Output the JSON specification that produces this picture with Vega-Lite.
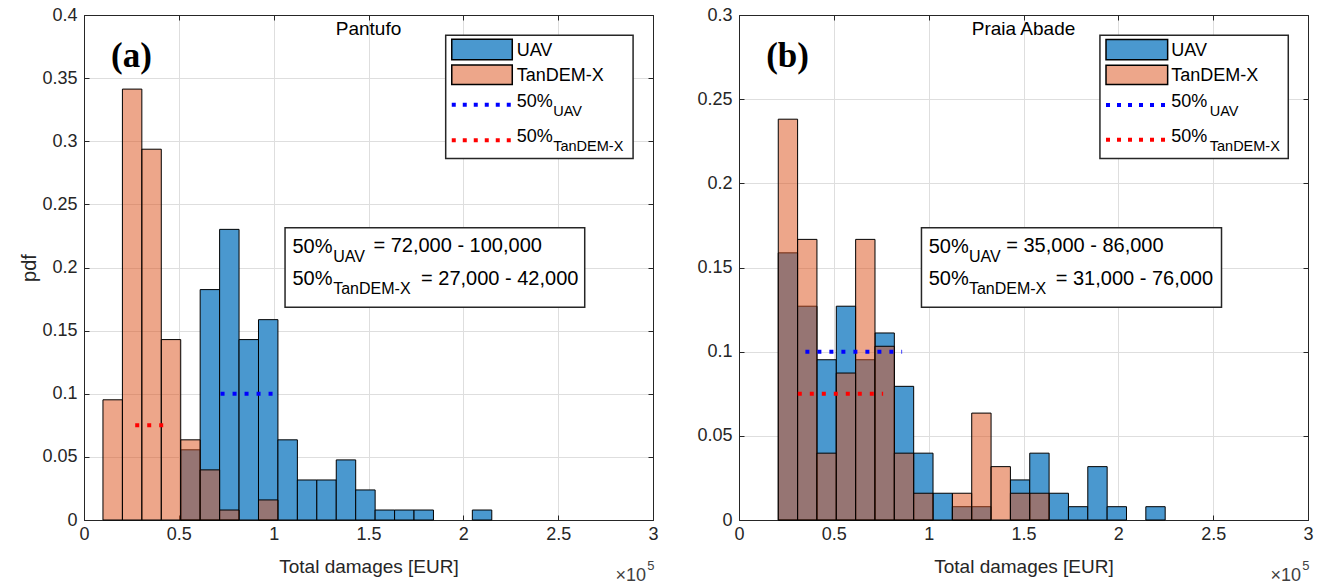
{
  "$schema": "https://vega.github.io/schema/vega-lite/v6.json",
  "padding": {"left": 19, "top": 5, "right": 5, "bottom": 0},
  "spacing": 37,
  "datasets": {
    "bars": [
      {"panel": "a", "series": "UAV", "x0": 51000, "x1": 61250, "p": 0.0556},
      {"panel": "a", "series": "UAV", "x0": 61250, "x1": 71500, "p": 0.1825},
      {"panel": "a", "series": "UAV", "x0": 71500, "x1": 81750, "p": 0.2302},
      {"panel": "a", "series": "UAV", "x0": 81750, "x1": 92000, "p": 0.1429},
      {"panel": "a", "series": "UAV", "x0": 92000, "x1": 102250, "p": 0.1587},
      {"panel": "a", "series": "UAV", "x0": 102250, "x1": 112500, "p": 0.0635},
      {"panel": "a", "series": "UAV", "x0": 112500, "x1": 122750, "p": 0.0317},
      {"panel": "a", "series": "UAV", "x0": 122750, "x1": 133000, "p": 0.0317},
      {"panel": "a", "series": "UAV", "x0": 133000, "x1": 143250, "p": 0.0476},
      {"panel": "a", "series": "UAV", "x0": 143250, "x1": 153500, "p": 0.0238},
      {"panel": "a", "series": "UAV", "x0": 153500, "x1": 163750, "p": 0.0079},
      {"panel": "a", "series": "UAV", "x0": 163750, "x1": 174000, "p": 0.0079},
      {"panel": "a", "series": "UAV", "x0": 174000, "x1": 184250, "p": 0.0079},
      {"panel": "a", "series": "UAV", "x0": 204750, "x1": 215000, "p": 0.0079},
      {"panel": "a", "series": "TanDEM-X", "x0": 10000, "x1": 20250, "p": 0.0952},
      {"panel": "a", "series": "TanDEM-X", "x0": 20250, "x1": 30500, "p": 0.3413},
      {"panel": "a", "series": "TanDEM-X", "x0": 30500, "x1": 40750, "p": 0.2937},
      {"panel": "a", "series": "TanDEM-X", "x0": 40750, "x1": 51000, "p": 0.1429},
      {"panel": "a", "series": "TanDEM-X", "x0": 51000, "x1": 61250, "p": 0.0635},
      {"panel": "a", "series": "TanDEM-X", "x0": 61250, "x1": 71500, "p": 0.0397},
      {"panel": "a", "series": "TanDEM-X", "x0": 71500, "x1": 81750, "p": 0.0079},
      {"panel": "a", "series": "TanDEM-X", "x0": 92000, "x1": 102250, "p": 0.0159},
      {"panel": "b", "series": "UAV", "x0": 20700, "x1": 30900, "p": 0.1587},
      {"panel": "b", "series": "UAV", "x0": 30900, "x1": 41100, "p": 0.1270},
      {"panel": "b", "series": "UAV", "x0": 41100, "x1": 51300, "p": 0.0952},
      {"panel": "b", "series": "UAV", "x0": 51300, "x1": 61500, "p": 0.1270},
      {"panel": "b", "series": "UAV", "x0": 61500, "x1": 71700, "p": 0.0952},
      {"panel": "b", "series": "UAV", "x0": 71700, "x1": 81900, "p": 0.1111},
      {"panel": "b", "series": "UAV", "x0": 81900, "x1": 92100, "p": 0.0794},
      {"panel": "b", "series": "UAV", "x0": 92100, "x1": 102300, "p": 0.0397},
      {"panel": "b", "series": "UAV", "x0": 102300, "x1": 112500, "p": 0.0159},
      {"panel": "b", "series": "UAV", "x0": 112500, "x1": 122700, "p": 0.0079},
      {"panel": "b", "series": "UAV", "x0": 122700, "x1": 132900, "p": 0.0079},
      {"panel": "b", "series": "UAV", "x0": 143100, "x1": 153300, "p": 0.0238},
      {"panel": "b", "series": "UAV", "x0": 153300, "x1": 163500, "p": 0.0397},
      {"panel": "b", "series": "UAV", "x0": 163500, "x1": 173700, "p": 0.0159},
      {"panel": "b", "series": "UAV", "x0": 173700, "x1": 183900, "p": 0.0079},
      {"panel": "b", "series": "UAV", "x0": 183900, "x1": 194100, "p": 0.0317},
      {"panel": "b", "series": "UAV", "x0": 194100, "x1": 204300, "p": 0.0079},
      {"panel": "b", "series": "UAV", "x0": 214500, "x1": 224700, "p": 0.0079},
      {"panel": "b", "series": "TanDEM-X", "x0": 20700, "x1": 30900, "p": 0.2381},
      {"panel": "b", "series": "TanDEM-X", "x0": 30900, "x1": 41100, "p": 0.1667},
      {"panel": "b", "series": "TanDEM-X", "x0": 41100, "x1": 51300, "p": 0.0397},
      {"panel": "b", "series": "TanDEM-X", "x0": 51300, "x1": 61500, "p": 0.0873},
      {"panel": "b", "series": "TanDEM-X", "x0": 61500, "x1": 71700, "p": 0.1667},
      {"panel": "b", "series": "TanDEM-X", "x0": 71700, "x1": 81900, "p": 0.1032},
      {"panel": "b", "series": "TanDEM-X", "x0": 81900, "x1": 92100, "p": 0.0397},
      {"panel": "b", "series": "TanDEM-X", "x0": 92100, "x1": 102300, "p": 0.0159},
      {"panel": "b", "series": "TanDEM-X", "x0": 112500, "x1": 122700, "p": 0.0159},
      {"panel": "b", "series": "TanDEM-X", "x0": 122700, "x1": 132900, "p": 0.0635},
      {"panel": "b", "series": "TanDEM-X", "x0": 132900, "x1": 143100, "p": 0.0317},
      {"panel": "b", "series": "TanDEM-X", "x0": 143100, "x1": 153300, "p": 0.0159},
      {"panel": "b", "series": "TanDEM-X", "x0": 153300, "x1": 163500, "p": 0.0159}
    ],
    "medians": [
      {"panel": "a", "series": "UAV", "x0": 72000, "x1": 100000, "y": 0.1},
      {"panel": "a", "series": "TanDEM-X", "x0": 27000, "x1": 42000, "y": 0.075},
      {"panel": "b", "series": "UAV", "x0": 35000, "x1": 86000, "y": 0.1},
      {"panel": "b", "series": "TanDEM-X", "x0": 31000, "x1": 76000, "y": 0.075}
    ],
    "legendlines": [
      {"panel": "a", "series": "UAV", "x0": 193900, "x1": 225800, "y": 0.3289},
      {"panel": "a", "series": "TanDEM-X", "x0": 193900, "x1": 225800, "y": 0.3007},
      {"panel": "b", "series": "UAV", "x0": 193500, "x1": 226000, "y": 0.2466},
      {"panel": "b", "series": "TanDEM-X", "x0": 193500, "x1": 226000, "y": 0.2259}
    ],
    "boxes": [
      {"panel": "a", "box": "legend", "x0": 190700, "x1": 289500, "y0": 0.2864, "y1": 0.3839},
      {"panel": "a", "box": "stats", "x0": 106000, "x1": 264000, "y0": 0.1685, "y1": 0.2315},
      {"panel": "b", "box": "legend", "x0": 190300, "x1": 289600, "y0": 0.2148, "y1": 0.2879},
      {"panel": "b", "box": "stats", "x0": 96200, "x1": 254400, "y0": 0.1264, "y1": 0.1736}
    ],
    "swatches": [
      {"panel": "a", "series": "UAV", "x0": 193900, "x1": 225800, "y0": 0.3646, "y1": 0.3807},
      {"panel": "a", "series": "TanDEM-X", "x0": 193900, "x1": 225800, "y0": 0.3450, "y1": 0.3603},
      {"panel": "b", "series": "UAV", "x0": 193500, "x1": 226000, "y0": 0.2734, "y1": 0.2855},
      {"panel": "b", "series": "TanDEM-X", "x0": 193500, "x1": 226000, "y0": 0.2587, "y1": 0.2702}
    ],
    "texts": [
      {"panel": "a", "role": "main", "x": 109900, "y": 0.2164, "text": "50%"},
      {"panel": "a", "role": "main", "x": 152600, "y": 0.2170, "text": "= 72,000 - 100,000"},
      {"panel": "a", "role": "main", "x": 109900, "y": 0.1905, "text": "50%"},
      {"panel": "a", "role": "main", "x": 177700, "y": 0.1910, "text": "= 27,000 - 42,000"},
      {"panel": "a", "role": "sub", "x": 131400, "y": 0.2083, "text": "UAV"},
      {"panel": "a", "role": "sub", "x": 131400, "y": 0.1828, "text": "TanDEM-X"},
      {"panel": "a", "role": "lmain", "x": 228100, "y": 0.3718, "text": "UAV"},
      {"panel": "a", "role": "lmain", "x": 228100, "y": 0.3517, "text": "TanDEM-X"},
      {"panel": "a", "role": "lmain", "x": 228100, "y": 0.3310, "text": "50%"},
      {"panel": "a", "role": "lmain", "x": 228100, "y": 0.3034, "text": "50%"},
      {"panel": "a", "role": "lsub", "x": 247400, "y": 0.3235, "text": "UAV"},
      {"panel": "a", "role": "lsub", "x": 247400, "y": 0.2953, "text": "TanDEM-X"},
      {"panel": "a", "role": "title", "x": 150000, "y": 0.3887, "text": "Pantufo"},
      {"panel": "a", "role": "label", "x": 25000, "y": 0.3678, "text": "(a)"},
      {"panel": "a", "role": "mult", "x": 296300, "y": -0.0444, "text": "×10"},
      {"panel": "a", "role": "sup", "x": 297000, "y": -0.0364, "text": "5"},
      {"panel": "b", "role": "main", "x": 100000, "y": 0.1623, "text": "50%"},
      {"panel": "b", "role": "main", "x": 140900, "y": 0.1627, "text": "= 35,000 - 86,000"},
      {"panel": "b", "role": "main", "x": 100000, "y": 0.1429, "text": "50%"},
      {"panel": "b", "role": "main", "x": 167000, "y": 0.1432, "text": "= 31,000 - 76,000"},
      {"panel": "b", "role": "sub", "x": 121200, "y": 0.1562, "text": "UAV"},
      {"panel": "b", "role": "sub", "x": 121200, "y": 0.1371, "text": "TanDEM-X"},
      {"panel": "b", "role": "lmain", "x": 227900, "y": 0.2788, "text": "UAV"},
      {"panel": "b", "role": "lmain", "x": 227900, "y": 0.2637, "text": "TanDEM-X"},
      {"panel": "b", "role": "lmain", "x": 227900, "y": 0.2482, "text": "50%"},
      {"panel": "b", "role": "lmain", "x": 227900, "y": 0.2275, "text": "50%"},
      {"panel": "b", "role": "lsub", "x": 248200, "y": 0.2426, "text": "UAV"},
      {"panel": "b", "role": "lsub", "x": 248200, "y": 0.2215, "text": "TanDEM-X"},
      {"panel": "b", "role": "title", "x": 150000, "y": 0.2915, "text": "Praia Abade"},
      {"panel": "b", "role": "label", "x": 25600, "y": 0.2758, "text": "(b)"},
      {"panel": "b", "role": "mult", "x": 296300, "y": -0.0333, "text": "×10"},
      {"panel": "b", "role": "sup", "x": 297000, "y": -0.0273, "text": "5"}
    ]
  },
  "hconcat": [
    {
      "width": 569,
      "height": 505,
      "resolve": {"axis": {"x": "independent", "y": "independent"}},
      "layer": [
        {
          "data": {"name": "bars"},
          "transform": [{"filter": "datum.panel == 'a' && datum.series == 'UAV'"}],
          "mark": {"type": "rect", "fill": "#4A98CF", "stroke": "#000000", "strokeWidth": 1},
          "encoding": {
            "x": {"field": "x0", "type": "quantitative", "scale": {"domain": [0, 300000], "nice": false, "zero": false},
                  "axis": {"orient": "bottom", "values": [0, 50000, 100000, 150000, 200000, 250000, 300000], "labelExpr": "'' + datum.value / 100000", "title": "Total damages [EUR]", "grid": true, "tickSize": -5, "labelPadding": 10, "titlePadding": 14}},
            "x2": {"field": "x1"},
            "y": {"field": "p", "type": "quantitative", "scale": {"domain": [0, 0.4], "nice": false},
                  "axis": {"orient": "left", "values": [0, 0.05, 0.1, 0.15, 0.2, 0.25, 0.3, 0.35, 0.4], "labelExpr": "'' + datum.value", "title": "pdf", "titleFontSize": 20, "grid": true, "tickSize": -5, "labelPadding": 12, "titlePadding": 2}},
            "y2": {"datum": 0}
          }
        },
        {
          "data": {"name": "bars"},
          "transform": [{"filter": "datum.panel == 'a' && datum.series == 'TanDEM-X'"}],
          "mark": {"type": "rect", "fill": "#DC541E", "fillOpacity": 0.52, "stroke": "#000000", "strokeWidth": 1},
          "encoding": {
            "x": {"field": "x0", "type": "quantitative", "axis": {"orient": "top", "values": [0, 50000, 100000, 150000, 200000, 250000, 300000], "labels": false, "title": null, "grid": false, "tickSize": -5}},
            "x2": {"field": "x1"},
            "y": {"field": "p", "type": "quantitative", "axis": {"orient": "right", "values": [0, 0.05, 0.1, 0.15, 0.2, 0.25, 0.3, 0.35, 0.4], "labels": false, "title": null, "grid": false, "tickSize": -5}},
            "y2": {"datum": 0}
          }
        },
        {
          "data": {"name": "medians"},
          "transform": [{"filter": "datum.panel == 'a'"}],
          "mark": {"type": "rule", "strokeWidth": 4, "strokeDash": [4, 8]},
          "encoding": {
            "x": {"field": "x0", "type": "quantitative", "axis": null},
            "x2": {"field": "x1"},
            "y": {"field": "y", "type": "quantitative", "axis": null},
            "color": {"field": "series", "type": "nominal", "scale": {"domain": ["UAV", "TanDEM-X"], "range": ["#0000FF", "#FF0000"]}, "legend": null}
          }
        },
        {
          "data": {"name": "boxes"},
          "transform": [{"filter": "datum.panel == 'a'"}],
          "mark": {"type": "rect", "fill": "#FFFFFF", "stroke": "#262626", "strokeWidth": 1.5},
          "encoding": {
            "x": {"field": "x0", "type": "quantitative", "axis": null},
            "x2": {"field": "x1"},
            "y": {"field": "y0", "type": "quantitative", "axis": null},
            "y2": {"field": "y1"}
          }
        },
        {
          "data": {"name": "swatches"},
          "transform": [{"filter": "datum.panel == 'a' && datum.series == 'UAV'"}],
          "mark": {"type": "rect", "fill": "#4A98CF", "stroke": "#000000", "strokeWidth": 1.5},
          "encoding": {
            "x": {"field": "x0", "type": "quantitative", "axis": null},
            "x2": {"field": "x1"},
            "y": {"field": "y0", "type": "quantitative", "axis": null},
            "y2": {"field": "y1"}
          }
        },
        {
          "data": {"name": "swatches"},
          "transform": [{"filter": "datum.panel == 'a' && datum.series == 'TanDEM-X'"}],
          "mark": {"type": "rect", "fill": "#DC541E", "fillOpacity": 0.52, "stroke": "#000000", "strokeWidth": 1.5},
          "encoding": {
            "x": {"field": "x0", "type": "quantitative", "axis": null},
            "x2": {"field": "x1"},
            "y": {"field": "y0", "type": "quantitative", "axis": null},
            "y2": {"field": "y1"}
          }
        },
        {
          "data": {"name": "legendlines"},
          "transform": [{"filter": "datum.panel == 'a'"}],
          "mark": {"type": "rule", "strokeWidth": 4, "strokeDash": [4, 7]},
          "encoding": {
            "x": {"field": "x0", "type": "quantitative", "axis": null},
            "x2": {"field": "x1"},
            "y": {"field": "y", "type": "quantitative", "axis": null},
            "color": {"field": "series", "type": "nominal", "scale": {"domain": ["UAV", "TanDEM-X"], "range": ["#0000FF", "#FF0000"]}, "legend": null}
          }
        },
        {
          "data": {"name": "texts"},
          "transform": [{"filter": "datum.panel == 'a' && datum.role == 'main'"}],
          "mark": {"type": "text", "align": "left", "baseline": "middle", "fontSize": 20, "font": "Liberation Sans", "color": "#000000"},
          "encoding": {"x": {"field": "x", "type": "quantitative", "axis": null}, "y": {"field": "y", "type": "quantitative", "axis": null}, "text": {"field": "text"}}
        },
        {
          "data": {"name": "texts"},
          "transform": [{"filter": "datum.panel == 'a' && datum.role == 'sub'"}],
          "mark": {"type": "text", "align": "left", "baseline": "middle", "fontSize": 16, "font": "Liberation Sans", "color": "#000000"},
          "encoding": {"x": {"field": "x", "type": "quantitative", "axis": null}, "y": {"field": "y", "type": "quantitative", "axis": null}, "text": {"field": "text"}}
        },
        {
          "data": {"name": "texts"},
          "transform": [{"filter": "datum.panel == 'a' && datum.role == 'lmain'"}],
          "mark": {"type": "text", "align": "left", "baseline": "middle", "fontSize": 18, "font": "Liberation Sans", "color": "#000000"},
          "encoding": {"x": {"field": "x", "type": "quantitative", "axis": null}, "y": {"field": "y", "type": "quantitative", "axis": null}, "text": {"field": "text"}}
        },
        {
          "data": {"name": "texts"},
          "transform": [{"filter": "datum.panel == 'a' && datum.role == 'lsub'"}],
          "mark": {"type": "text", "align": "left", "baseline": "middle", "fontSize": 14.5, "font": "Liberation Sans", "color": "#000000"},
          "encoding": {"x": {"field": "x", "type": "quantitative", "axis": null}, "y": {"field": "y", "type": "quantitative", "axis": null}, "text": {"field": "text"}}
        },
        {
          "data": {"name": "texts"},
          "transform": [{"filter": "datum.panel == 'a' && datum.role == 'title'"}],
          "mark": {"type": "text", "align": "center", "baseline": "middle", "fontSize": 19, "font": "Liberation Sans", "color": "#000000"},
          "encoding": {"x": {"field": "x", "type": "quantitative", "axis": null}, "y": {"field": "y", "type": "quantitative", "axis": null}, "text": {"field": "text"}}
        },
        {
          "data": {"name": "texts"},
          "transform": [{"filter": "datum.panel == 'a' && datum.role == 'label'"}],
          "mark": {"type": "text", "align": "center", "baseline": "middle", "fontSize": 35, "font": "Liberation Serif", "fontWeight": "bold", "color": "#000000"},
          "encoding": {"x": {"field": "x", "type": "quantitative", "axis": null}, "y": {"field": "y", "type": "quantitative", "axis": null}, "text": {"field": "text"}}
        },
        {
          "data": {"name": "texts"},
          "transform": [{"filter": "datum.panel == 'a' && datum.role == 'mult'"}],
          "mark": {"type": "text", "align": "right", "baseline": "middle", "fontSize": 18, "font": "Liberation Sans", "color": "#404040", "clip": false},
          "encoding": {"x": {"field": "x", "type": "quantitative", "axis": null}, "y": {"field": "y", "type": "quantitative", "axis": null}, "text": {"field": "text"}}
        },
        {
          "data": {"name": "texts"},
          "transform": [{"filter": "datum.panel == 'a' && datum.role == 'sup'"}],
          "mark": {"type": "text", "align": "left", "baseline": "middle", "fontSize": 13, "font": "Liberation Sans", "color": "#404040", "clip": false},
          "encoding": {"x": {"field": "x", "type": "quantitative", "axis": null}, "y": {"field": "y", "type": "quantitative", "axis": null}, "text": {"field": "text"}}
        }
      ]
    },
    {
      "width": 569,
      "height": 505,
      "resolve": {"axis": {"x": "independent", "y": "independent"}},
      "layer": [
        {
          "data": {"name": "bars"},
          "transform": [{"filter": "datum.panel == 'b' && datum.series == 'UAV'"}],
          "mark": {"type": "rect", "fill": "#4A98CF", "stroke": "#000000", "strokeWidth": 1},
          "encoding": {
            "x": {"field": "x0", "type": "quantitative", "scale": {"domain": [0, 300000], "nice": false, "zero": false},
                  "axis": {"orient": "bottom", "values": [0, 50000, 100000, 150000, 200000, 250000, 300000], "labelExpr": "'' + datum.value / 100000", "title": "Total damages [EUR]", "grid": true, "tickSize": -5, "labelPadding": 10, "titlePadding": 14}},
            "x2": {"field": "x1"},
            "y": {"field": "p", "type": "quantitative", "scale": {"domain": [0, 0.3], "nice": false},
                  "axis": {"orient": "left", "values": [0, 0.05, 0.1, 0.15, 0.2, 0.25, 0.3], "labelExpr": "'' + datum.value", "title": null, "grid": true, "tickSize": -5, "labelPadding": 12}},
            "y2": {"datum": 0}
          }
        },
        {
          "data": {"name": "bars"},
          "transform": [{"filter": "datum.panel == 'b' && datum.series == 'TanDEM-X'"}],
          "mark": {"type": "rect", "fill": "#DC541E", "fillOpacity": 0.52, "stroke": "#000000", "strokeWidth": 1},
          "encoding": {
            "x": {"field": "x0", "type": "quantitative", "axis": {"orient": "top", "values": [0, 50000, 100000, 150000, 200000, 250000, 300000], "labels": false, "title": null, "grid": false, "tickSize": -5}},
            "x2": {"field": "x1"},
            "y": {"field": "p", "type": "quantitative", "axis": {"orient": "right", "values": [0, 0.05, 0.1, 0.15, 0.2, 0.25, 0.3], "labels": false, "title": null, "grid": false, "tickSize": -5}},
            "y2": {"datum": 0}
          }
        },
        {
          "data": {"name": "medians"},
          "transform": [{"filter": "datum.panel == 'b'"}],
          "mark": {"type": "rule", "strokeWidth": 4, "strokeDash": [4, 8]},
          "encoding": {
            "x": {"field": "x0", "type": "quantitative", "axis": null},
            "x2": {"field": "x1"},
            "y": {"field": "y", "type": "quantitative", "axis": null},
            "color": {"field": "series", "type": "nominal", "scale": {"domain": ["UAV", "TanDEM-X"], "range": ["#0000FF", "#FF0000"]}, "legend": null}
          }
        },
        {
          "data": {"name": "boxes"},
          "transform": [{"filter": "datum.panel == 'b'"}],
          "mark": {"type": "rect", "fill": "#FFFFFF", "stroke": "#262626", "strokeWidth": 1.5},
          "encoding": {
            "x": {"field": "x0", "type": "quantitative", "axis": null},
            "x2": {"field": "x1"},
            "y": {"field": "y0", "type": "quantitative", "axis": null},
            "y2": {"field": "y1"}
          }
        },
        {
          "data": {"name": "swatches"},
          "transform": [{"filter": "datum.panel == 'b' && datum.series == 'UAV'"}],
          "mark": {"type": "rect", "fill": "#4A98CF", "stroke": "#000000", "strokeWidth": 1.5},
          "encoding": {
            "x": {"field": "x0", "type": "quantitative", "axis": null},
            "x2": {"field": "x1"},
            "y": {"field": "y0", "type": "quantitative", "axis": null},
            "y2": {"field": "y1"}
          }
        },
        {
          "data": {"name": "swatches"},
          "transform": [{"filter": "datum.panel == 'b' && datum.series == 'TanDEM-X'"}],
          "mark": {"type": "rect", "fill": "#DC541E", "fillOpacity": 0.52, "stroke": "#000000", "strokeWidth": 1.5},
          "encoding": {
            "x": {"field": "x0", "type": "quantitative", "axis": null},
            "x2": {"field": "x1"},
            "y": {"field": "y0", "type": "quantitative", "axis": null},
            "y2": {"field": "y1"}
          }
        },
        {
          "data": {"name": "legendlines"},
          "transform": [{"filter": "datum.panel == 'b'"}],
          "mark": {"type": "rule", "strokeWidth": 4, "strokeDash": [4, 7]},
          "encoding": {
            "x": {"field": "x0", "type": "quantitative", "axis": null},
            "x2": {"field": "x1"},
            "y": {"field": "y", "type": "quantitative", "axis": null},
            "color": {"field": "series", "type": "nominal", "scale": {"domain": ["UAV", "TanDEM-X"], "range": ["#0000FF", "#FF0000"]}, "legend": null}
          }
        },
        {
          "data": {"name": "texts"},
          "transform": [{"filter": "datum.panel == 'b' && datum.role == 'main'"}],
          "mark": {"type": "text", "align": "left", "baseline": "middle", "fontSize": 20, "font": "Liberation Sans", "color": "#000000"},
          "encoding": {"x": {"field": "x", "type": "quantitative", "axis": null}, "y": {"field": "y", "type": "quantitative", "axis": null}, "text": {"field": "text"}}
        },
        {
          "data": {"name": "texts"},
          "transform": [{"filter": "datum.panel == 'b' && datum.role == 'sub'"}],
          "mark": {"type": "text", "align": "left", "baseline": "middle", "fontSize": 16, "font": "Liberation Sans", "color": "#000000"},
          "encoding": {"x": {"field": "x", "type": "quantitative", "axis": null}, "y": {"field": "y", "type": "quantitative", "axis": null}, "text": {"field": "text"}}
        },
        {
          "data": {"name": "texts"},
          "transform": [{"filter": "datum.panel == 'b' && datum.role == 'lmain'"}],
          "mark": {"type": "text", "align": "left", "baseline": "middle", "fontSize": 18, "font": "Liberation Sans", "color": "#000000"},
          "encoding": {"x": {"field": "x", "type": "quantitative", "axis": null}, "y": {"field": "y", "type": "quantitative", "axis": null}, "text": {"field": "text"}}
        },
        {
          "data": {"name": "texts"},
          "transform": [{"filter": "datum.panel == 'b' && datum.role == 'lsub'"}],
          "mark": {"type": "text", "align": "left", "baseline": "middle", "fontSize": 14.5, "font": "Liberation Sans", "color": "#000000"},
          "encoding": {"x": {"field": "x", "type": "quantitative", "axis": null}, "y": {"field": "y", "type": "quantitative", "axis": null}, "text": {"field": "text"}}
        },
        {
          "data": {"name": "texts"},
          "transform": [{"filter": "datum.panel == 'b' && datum.role == 'title'"}],
          "mark": {"type": "text", "align": "center", "baseline": "middle", "fontSize": 19, "font": "Liberation Sans", "color": "#000000"},
          "encoding": {"x": {"field": "x", "type": "quantitative", "axis": null}, "y": {"field": "y", "type": "quantitative", "axis": null}, "text": {"field": "text"}}
        },
        {
          "data": {"name": "texts"},
          "transform": [{"filter": "datum.panel == 'b' && datum.role == 'label'"}],
          "mark": {"type": "text", "align": "center", "baseline": "middle", "fontSize": 35, "font": "Liberation Serif", "fontWeight": "bold", "color": "#000000"},
          "encoding": {"x": {"field": "x", "type": "quantitative", "axis": null}, "y": {"field": "y", "type": "quantitative", "axis": null}, "text": {"field": "text"}}
        },
        {
          "data": {"name": "texts"},
          "transform": [{"filter": "datum.panel == 'b' && datum.role == 'mult'"}],
          "mark": {"type": "text", "align": "right", "baseline": "middle", "fontSize": 18, "font": "Liberation Sans", "color": "#404040", "clip": false},
          "encoding": {"x": {"field": "x", "type": "quantitative", "axis": null}, "y": {"field": "y", "type": "quantitative", "axis": null}, "text": {"field": "text"}}
        },
        {
          "data": {"name": "texts"},
          "transform": [{"filter": "datum.panel == 'b' && datum.role == 'sup'"}],
          "mark": {"type": "text", "align": "left", "baseline": "middle", "fontSize": 13, "font": "Liberation Sans", "color": "#404040", "clip": false},
          "encoding": {"x": {"field": "x", "type": "quantitative", "axis": null}, "y": {"field": "y", "type": "quantitative", "axis": null}, "text": {"field": "text"}}
        }
      ]
    }
  ],
  "config": {
    "background": "#FFFFFF",
    "font": "Liberation Sans",
    "view": {"stroke": "#262626", "strokeWidth": 1},
    "axis": {
      "labelFont": "Liberation Sans",
      "labelFontSize": 18,
      "labelColor": "#262626",
      "titleFont": "Liberation Sans",
      "titleFontSize": 19,
      "titleFontWeight": "normal",
      "titleColor": "#262626",
      "domainColor": "#262626",
      "tickColor": "#262626",
      "gridColor": "#DEDEDE",
      "labelFlush": false,
      "labelOverlap": false
    }
  }
}
